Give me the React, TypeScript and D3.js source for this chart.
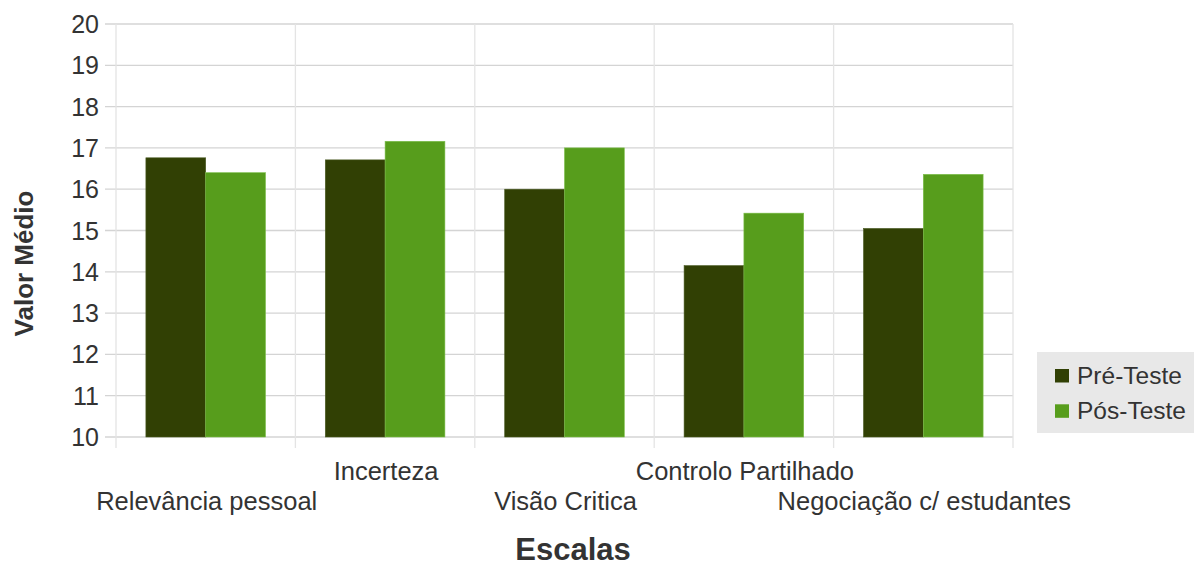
import React from "react";
import * as d3 from "d3";

const categories = [
  "Relevância pessoal",
  "Incerteza",
  "Visão Critica",
  "Controlo Partilhado",
  "Negociação c/ estudantes",
];
const preTeste = [16.76, 16.71, 16.0, 14.15, 15.05];
const posTeste = [16.4, 17.16, 17.0, 15.42, 16.36];
const seriesNames = ["Pré-Teste", "Pós-Teste"];
const yTicks = [10, 11, 12, 13, 14, 15, 16, 17, 18, 19, 20];

const colors = ["#314004", "#579d1c"];
const font = "'Liberation Sans', Arial, sans-serif";

export default function App() {
  const W = 1194, H = 562;
  const left = 116, right = 1013, top = 24, bottom = 437;
  const x = d3.scaleBand<string>().domain(categories).range([left, right]).paddingInner(0).paddingOuter(0);
  const y = d3.scaleLinear().domain([10, 20]).range([bottom, top]);
  const bw = x.bandwidth();
  const barW = bw / 3;
  const series = [preTeste, posTeste];

  return (
    <svg width={W} height={H} style={{ position: "absolute", left: 0, top: 0, background: "#fff" }}>
      {/* horizontal grid */}
      {yTicks.map((t) => (
        <line key={"h" + t} x1={left - 11} x2={right} y1={y(t)} y2={y(t)} stroke="#d4d4d4" strokeWidth={1.3} />
      ))}
      {/* vertical grid */}
      {categories.map((c, i) => (
        <line key={"v" + i} x1={x(c)!} x2={x(c)!} y1={top} y2={bottom + 11} stroke="#e4e4e4" strokeWidth={1.3} />
      ))}
      <line x1={right} x2={right} y1={top} y2={bottom + 11} stroke="#e4e4e4" strokeWidth={1.3} />
      {/* bars */}
      {series.map((s, si) =>
        s.map((v, i) => {
          const x0 = x(categories[i])! + bw / 6 + si * barW;
          return (
            <rect
              key={si + "-" + i}
              x={x0}
              y={y(v)}
              width={barW}
              height={bottom - y(v)}
              fill={colors[si]}
              stroke={si === 0 ? "#4a5a24" : "#7cbf4a"}
              strokeWidth={0.6}
            />
          );
        })
      )}
      {/* y tick labels */}
      {yTicks.map((t) => (
        <text key={"yt" + t} x={99} y={y(t)} dy="0.36em" textAnchor="end" fontFamily={font} fontSize={25} fill="#333">
          {t}
        </text>
      ))}
      {/* x labels */}
      {categories.map((c, i) => (
        <text
          key={"xl" + i}
          x={x(c)! + bw / 2 + 1}
          y={i % 2 === 0 ? 510 : 479.5}
          textAnchor="middle"
          fontFamily={font}
          fontSize={25.5}
          fill="#333"
        >
          {c}
        </text>
      ))}
      {/* axis titles */}
      <text
        transform={`translate(33,263.5) rotate(-90)`}
        textAnchor="middle"
        fontFamily={font}
        fontSize={26}
        fontWeight="bold"
        fill="#333"
      >
        Valor Médio
      </text>
      <text x={573} y={560} textAnchor="middle" fontFamily={font} fontSize={31} fontWeight="bold" fill="#333">
        Escalas
      </text>
      {/* legend */}
      <rect x={1037} y={352} width={157} height={81} fill="#e8e8e8" />
      {seriesNames.map((n, i) => (
        <g key={"lg" + i}>
          <rect x={1055} y={369 + i * 35.3} width={14} height={13.5} fill={colors[i]} />
          <text x={1077} y={384.3 + i * 35} fontFamily={font} fontSize={24.5} fill="#333">
            {n}
          </text>
        </g>
      ))}
    </svg>
  );
}
